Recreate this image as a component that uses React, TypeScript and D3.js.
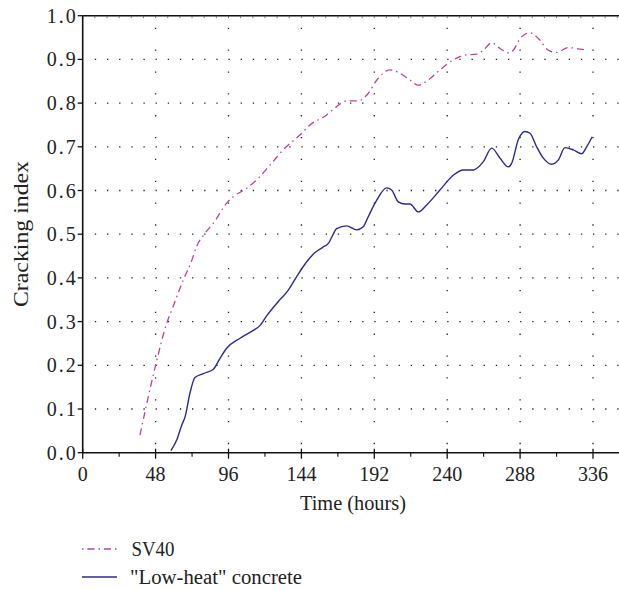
import React from "react";
import * as d3 from "d3";

const xTicks = [0, 48, 96, 144, 192, 240, 288, 336];
const yTicks = [0.0, 0.1, 0.2, 0.3, 0.4, 0.5, 0.6, 0.7, 0.8, 0.9, 1.0];

const sv40Hours = [37.7, 48, 55.3, 58.6, 66.2, 71.8, 75, 80.5, 86, 94.8, 99.2, 108, 115.6, 123.3, 132, 143, 149.7, 160.6, 167.2, 173.8, 181.5, 187, 194.6, 202.3, 209, 215.5, 221, 227.5, 235.2, 244, 251.7, 259.4, 263.8, 269.3, 274.8, 280.2, 283.5, 288, 294.5, 300, 306.6, 312, 319.7, 325.2, 331.8];
const sv40Values = [0.04, 0.2, 0.296, 0.326, 0.395, 0.44, 0.472, 0.502, 0.525, 0.571, 0.586, 0.605, 0.628, 0.658, 0.693, 0.727, 0.75, 0.773, 0.792, 0.805, 0.805, 0.818, 0.857, 0.876, 0.868, 0.853, 0.841, 0.853, 0.876, 0.899, 0.91, 0.912, 0.921, 0.938, 0.925, 0.915, 0.921, 0.948, 0.961, 0.948, 0.921, 0.916, 0.927, 0.925, 0.921];

const lowHeatHours = [58.1, 61.9, 65.2, 67.4, 70.6, 73.9, 79.4, 86, 90.4, 94.8, 103.6, 112.3, 117, 121.1, 128.8, 135.4, 140.9, 147.5, 153, 158, 162, 164.5, 167.2, 173.8, 180.4, 184.7, 188, 193.6, 200.1, 203.4, 207.8, 212.2, 215.5, 221, 226.5, 235.2, 244, 250.6, 257.2, 263.8, 269.3, 274.8, 280.2, 282.4, 286.8, 291.2, 294.5, 298.9, 303.3, 308.8, 313.2, 317.5, 323, 328.5, 331.8, 335.5];
const lowHeatValues = [0.005, 0.029, 0.063, 0.082, 0.136, 0.172, 0.181, 0.191, 0.216, 0.239, 0.262, 0.28, 0.292, 0.313, 0.346, 0.372, 0.403, 0.437, 0.458, 0.47, 0.48, 0.497, 0.513, 0.519, 0.51, 0.517, 0.54, 0.578, 0.606, 0.601, 0.574, 0.569, 0.569, 0.551, 0.567, 0.601, 0.635, 0.647, 0.647, 0.666, 0.697, 0.674, 0.654, 0.662, 0.716, 0.735, 0.731, 0.7, 0.674, 0.66, 0.67, 0.698, 0.693, 0.684, 0.7, 0.723];

const seriesNames = ["SV40", "\"Low-heat\" concrete"];
const seriesColors = ["#b8439f", "#2e2b8c"];

const W = 619;
const H = 590;
const left = 82.7;
const right = 619;
const top = 15.7;
const bottom = 452.7;
const pxPerHour = 72.9 / 48;

const FONT = "'Liberation Serif', 'DejaVu Serif', serif";
const txt = { fontFamily: FONT, fill: "#222" } as const;

export default function App() {
  const x = d3.scaleLinear().domain([0, (right - left) / pxPerHour]).range([left, right]);
  const y = d3.scaleLinear().domain([0, 1]).range([bottom, top]);
  const line = d3
    .line<[number, number]>()
    .x((d) => x(d[0]))
    .y((d) => y(d[1]))
    .curve(d3.curveMonotoneX);

  const sv = sv40Hours.map((h, i) => [h, sv40Values[i]] as [number, number]);
  const lh = lowHeatHours.map((h, i) => [h, lowHeatValues[i]] as [number, number]);

  const minorX = d3.range(24, 360, 48).filter((v) => x(v) < right);
  const topMinor = d3.range(8, 360, 8).filter((v) => x(v) < right);

  return (
    <svg width={W} height={H} style={{ position: "absolute", left: 0, top: 0, background: "#fff" }}>
      {yTicks.filter((t) => t > 0 && t < 1).map((t) => (
        <line key={"gy" + t} x1={left + 12.15} x2={right} y1={y(t)} y2={y(t)} stroke="#222" strokeWidth={1.3} strokeDasharray="1.3 10.85" />
      ))}
      {xTicks.filter((t) => t > 0).map((t) => (
        <line key={"gx" + t} x1={x(t)} x2={x(t)} y1={top + 12} y2={bottom} stroke="#222" strokeWidth={1.3} strokeDasharray="1.3 20.55" />
      ))}
      <path d={line(sv) || ""} fill="none" stroke={seriesColors[0]} strokeWidth={1.3} strokeDasharray="7 4 1.5 4" />
      <path d={line(lh) || ""} fill="none" stroke={seriesColors[1]} strokeWidth={1.4} />
      <line x1={left} x2={left} y1={top} y2={bottom} stroke="#111" strokeWidth={1.6} />
      <line x1={left} x2={right} y1={bottom} y2={bottom} stroke="#111" strokeWidth={1.6} />
      <line x1={left} x2={right} y1={top} y2={top} stroke="#111" strokeWidth={1.6} />
      {topMinor.map((t) => (
        <line key={"tm" + t} x1={x(t)} x2={x(t)} y1={top} y2={top + 2.5} stroke="#555" strokeWidth={0.8} />
      ))}
      {yTicks.map((t) => (
        <g key={"yt" + t}>
          <line x1={left - 5} x2={left} y1={y(t)} y2={y(t)} stroke="#111" strokeWidth={1.3} />
          <text x={left - 7} y={y(t)} dy="0.35em" textAnchor="end" fontSize={20} textLength={29} lengthAdjust="spacing" style={txt}>
            {t.toFixed(1)}
          </text>
        </g>
      ))}
      {xTicks.map((t) => (
        <g key={"xt" + t}>
          <line x1={x(t)} x2={x(t)} y1={bottom - 4} y2={bottom + 6} stroke="#111" strokeWidth={1.3} />
          <text x={x(t)} y={481} textAnchor="middle" fontSize={20} style={txt}>
            {t}
          </text>
        </g>
      ))}
      {minorX.map((t) => (
        <line key={"mx" + t} x1={x(t)} x2={x(t)} y1={bottom} y2={bottom + 4} stroke="#111" strokeWidth={1.1} />
      ))}
      <text x={353} y={510} textAnchor="middle" fontSize={20} textLength={106} lengthAdjust="spacingAndGlyphs" style={txt}>Time (hours)</text>
      <text transform={`translate(27.5, 234) rotate(-90)`} textAnchor="middle" fontSize={20} textLength={146} lengthAdjust="spacingAndGlyphs" style={txt}>Cracking index</text>
      <line x1={82} x2={117} y1={549} y2={549} stroke={seriesColors[0]} strokeWidth={1.3} strokeDasharray="1.5 4 7 4" />
      <text x={131.5} y={556} fontSize={20} textLength={43} lengthAdjust="spacingAndGlyphs" style={txt}>{seriesNames[0]}</text>
      <line x1={82} x2={117} y1={577} y2={577} stroke={seriesColors[1]} strokeWidth={1.4} />
      <text x={130} y={584} fontSize={20} textLength={172} lengthAdjust="spacingAndGlyphs" style={txt}>{seriesNames[1]}</text>
    </svg>
  );
}
